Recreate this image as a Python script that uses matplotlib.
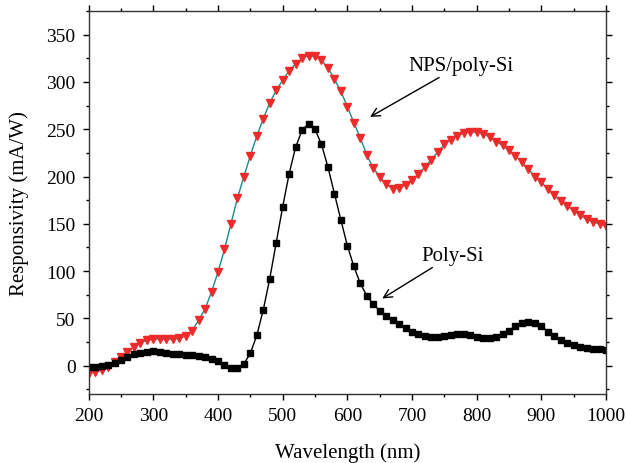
import matplotlib
matplotlib.use('Agg')
import matplotlib.pyplot as plt
import numpy as np
from matplotlib.ticker import MultipleLocator

# wavelength grid (nm), 10 nm steps
wavelength = list(range(200, 1001, 10))

# Poly-Si responsivity (mA/W)
poly_si = [-1, -1, 0, 1, 3, 6, 9, 12, 13, 14,
           15, 14, 13, 12, 12, 11, 11, 10, 9, 7,
           5, 1, -3, -2, 2, 13, 32, 59, 92, 130,
           168, 203, 231, 249, 256, 250, 234, 210, 182, 154,
           127, 105, 87, 74, 65, 58, 53, 48, 44, 40,
           36, 33, 31, 30, 30, 31, 32, 33, 33, 32,
           30, 29, 29, 30, 33, 37, 42, 45, 46, 45,
           42, 36, 31, 27, 24, 22, 20, 19, 18, 18,
           17]

# NPS/poly-Si responsivity (mA/W)
nps_poly_si = [-8, -7, -5, -1, 4, 9, 14, 20, 24, 27,
               28, 28, 28, 28, 29, 31, 37, 48, 60, 78,
               99, 123, 150, 177, 200, 222, 243, 261, 278, 291,
               302, 312, 319, 325, 328, 327, 323, 315, 303, 290,
               274, 257, 241, 223, 209, 200, 192, 187, 188, 191,
               196, 203, 210, 218, 226, 234, 239, 243, 246, 247,
               247, 245, 242, 237, 233, 228, 222, 215, 208, 200,
               194, 187, 180, 174, 169, 164, 159, 155, 152, 150,
               148]

plt.rcParams['font.family'] = ['Liberation Serif', 'DejaVu Serif']
plt.rcParams['font.size'] = 14

fig = plt.figure(figsize=(6.26, 4.64), dpi=100)
ax = fig.add_axes([0.1417, 0.1487, 0.8263, 0.8253])

ax.plot(wavelength, nps_poly_si, '-', color='#1a8a8a', lw=1.0,
        marker='v', ms=6, mfc='#ee2b2b', mec='#ee2b2b')
ax.plot(wavelength, poly_si, '-', color='black', lw=1.0,
        marker='s', ms=4.5, mfc='black', mec='black')

ax.set_xlim(200, 1000)
ax.set_ylim(-30, 375)
ax.xaxis.set_major_locator(MultipleLocator(100))
ax.xaxis.set_minor_locator(MultipleLocator(50))
ax.yaxis.set_major_locator(MultipleLocator(50))
ax.yaxis.set_minor_locator(MultipleLocator(25))
ax.tick_params(which='both', direction='out', top=True, right=True)
ax.tick_params(which='major', length=4.5, width=1, pad=5)
ax.tick_params(which='minor', length=2.5, width=1)
for s in ax.spines.values():
    s.set_linewidth(1.0)
    s.set_color('#333333')

ax.set_xlabel('Wavelength (nm)', fontsize=15, labelpad=13)
ax.set_ylabel('Responsivity (mA/W)', fontsize=15, labelpad=12)

ax.annotate('NPS/poly-Si', xy=(635, 263), xytext=(694, 313),
            ha='left', va='baseline', fontsize=15,
            arrowprops=dict(arrowstyle='->', color='black', lw=1.0,
                            shrinkA=0, shrinkB=0))
ax.annotate('Poly-Si', xy=(654, 71), xytext=(714, 112),
            ha='left', va='baseline', fontsize=15,
            arrowprops=dict(arrowstyle='->', color='black', lw=1.0,
                            shrinkA=0, shrinkB=0))

fig.savefig('out.png', dpi=100)
